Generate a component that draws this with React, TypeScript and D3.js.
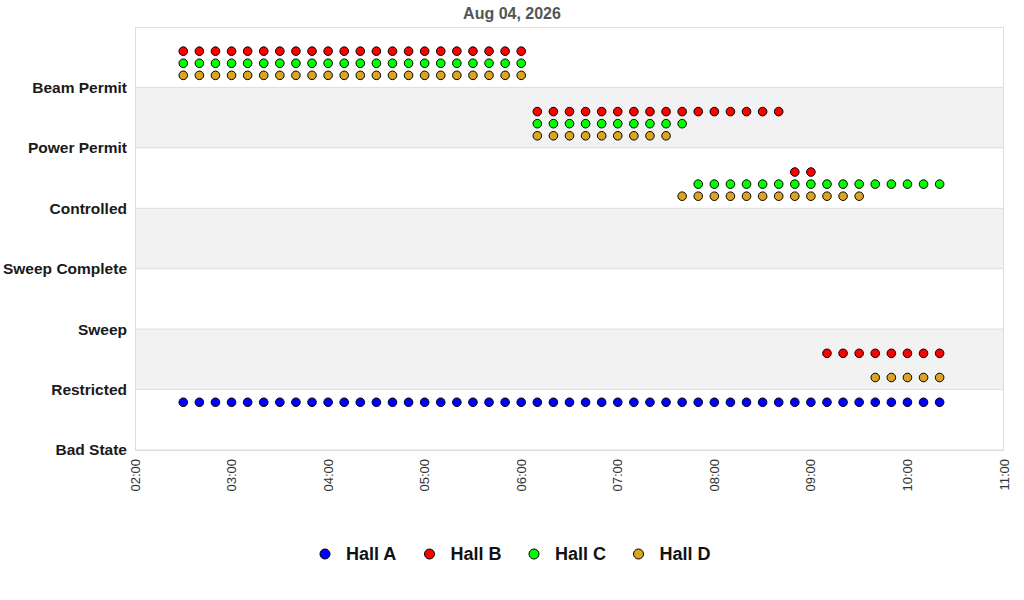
import React, { useMemo } from "react";
import * as d3 from "d3";

const DAY = "2026-08-04";
const TITLE = "Aug 04, 2026";

// states, bottom to top
const STATES = ["Bad State", "Restricted", "Sweep", "Sweep Complete", "Controlled", "Power Permit", "Beam Permit"];

const X_TICKS = ["02:00", "03:00", "04:00", "05:00", "06:00", "07:00", "08:00", "09:00", "10:00", "11:00"];

const TIMES = [
  "02:30", "02:40", "02:50", "03:00", "03:10", "03:20", "03:30", "03:40", "03:50", "04:00",
  "04:10", "04:20", "04:30", "04:40", "04:50", "05:00", "05:10", "05:20", "05:30", "05:40",
  "05:50", "06:00", "06:10", "06:20", "06:30", "06:40", "06:50", "07:00", "07:10", "07:20",
  "07:30", "07:40", "07:50", "08:00", "08:10", "08:20", "08:30", "08:40", "08:50", "09:00",
  "09:10", "09:20", "09:30", "09:40", "09:50", "10:00", "10:10", "10:20",
];

const BP = "Beam Permit";
const PP = "Power Permit";
const CT = "Controlled";
const RS = "Restricted";

const HALL_A = [
  RS, RS, RS, RS, RS, RS, RS, RS, RS, RS,
  RS, RS, RS, RS, RS, RS, RS, RS, RS, RS,
  RS, RS, RS, RS, RS, RS, RS, RS, RS, RS,
  RS, RS, RS, RS, RS, RS, RS, RS, RS, RS,
  RS, RS, RS, RS, RS, RS, RS, RS,
];

const HALL_B = [
  BP, BP, BP, BP, BP, BP, BP, BP, BP, BP,
  BP, BP, BP, BP, BP, BP, BP, BP, BP, BP,
  BP, BP, PP, PP, PP, PP, PP, PP, PP, PP,
  PP, PP, PP, PP, PP, PP, PP, PP, CT, CT,
  RS, RS, RS, RS, RS, RS, RS, RS,
];

const HALL_C = [
  BP, BP, BP, BP, BP, BP, BP, BP, BP, BP,
  BP, BP, BP, BP, BP, BP, BP, BP, BP, BP,
  BP, BP, PP, PP, PP, PP, PP, PP, PP, PP,
  PP, PP, CT, CT, CT, CT, CT, CT, CT, CT,
  CT, CT, CT, CT, CT, CT, CT, CT,
];

const HALL_D = [
  BP, BP, BP, BP, BP, BP, BP, BP, BP, BP,
  BP, BP, BP, BP, BP, BP, BP, BP, BP, BP,
  BP, BP, PP, PP, PP, PP, PP, PP, PP, PP,
  PP, CT, CT, CT, CT, CT, CT, CT, CT, CT,
  CT, CT, CT, RS, RS, RS, RS, RS,
];

const HALLS = [
  { key: "A", label: "Hall A", color: "#0000ff", values: HALL_A, offset: -0.21 },
  { key: "B", label: "Hall B", color: "#ff0000", values: HALL_B, offset: 0.6 },
  { key: "C", label: "Hall C", color: "#00ff00", values: HALL_C, offset: 0.4 },
  { key: "D", label: "Hall D", color: "#daa520", values: HALL_D, offset: 0.2 },
];

const FONT = "'Liberation Sans', Arial, sans-serif";

export default function App() {
  const width = 1024;
  const height = 600;
  const margin = { top: 27, right: 20, bottom: 150, left: 135 };
  const w = width - margin.left - margin.right;
  const h = height - margin.top - margin.bottom;

  const parse = d3.timeParse("%Y-%m-%d %H:%M");

  const chart = useMemo(() => {
    const x = d3
      .scaleTime()
      .domain([parse(`${DAY} 02:00`)!, parse(`${DAY} 11:00`)!])
      .range([0, w]);
    const y = d3.scaleLinear().domain([0, STATES.length]).range([h, 0]);

    const points = HALLS.flatMap((hall) =>
      hall.values.map((s, i) => ({
        key: `${hall.key}-${i}`,
        color: hall.color,
        cx: x(parse(`${DAY} ${TIMES[i]}`)!),
        cy: y(STATES.indexOf(s) + hall.offset),
      }))
    );

    const xTicks = X_TICKS.map((t) => ({ label: t, x: x(parse(`${DAY} ${t}`)!) }));
    const yTicks = STATES.map((s, i) => ({ label: s, y: y(i), i }));
    return { x, y, points, xTicks, yTicks };
  }, [w, h]);

  const { y } = chart;

  return (
    <div style={{ position: "absolute", left: 0, top: 0 }}>
      <svg width={width} height={height} style={{ display: "block", background: "#fff" }}>
        <text x={512} y={19} textAnchor="middle" fontFamily={FONT} fontWeight="bold" fontSize={16} fill="#555">
          {TITLE}
        </text>
        <g transform={`translate(${margin.left},${margin.top})`}>
          {/* alternating bands */}
          {STATES.map((_, i) =>
            i % 2 === 1 ? (
              <rect key={`band-${i}`} x={0} width={w} y={y(i + 1)} height={y(i) - y(i + 1)} fill="#f2f2f2" />
            ) : null
          )}
          {/* grid */}
          {chart.yTicks.map((t) => (
            <g key={t.label}>
              <line x1={0} x2={w} y1={t.y} y2={t.y} stroke="#dddddd" />
              <text
                x={-8}
                y={t.y}
                textAnchor="end"
                dy="0.35em"
                fontFamily={FONT}
                fontWeight="bold"
                fontSize={15.5}
                fill="#1a1a1a"
              >
                {t.label}
              </text>
            </g>
          ))}
          <rect x={0.5} y={0.5} width={w - 1} height={h} fill="none" stroke="#dddddd" />

          {/* x labels */}
          {chart.xTicks.map((t) => (
            <text
              key={t.label}
              transform={`translate(${t.x},${h + 9}) rotate(-90)`}
              textAnchor="end"
              dy="0.35em"
              fontFamily={FONT}
              fontSize={13}
              fill="#333"
            >
              {t.label}
            </text>
          ))}

          {/* points */}
          {chart.points.map((p) => (
            <circle key={p.key} cx={p.cx} cy={p.cy} r={4.3} fill={p.color} stroke="#000" strokeWidth={1} />
          ))}
        </g>

        {/* legend */}
        <g transform="translate(325,554)">
          {HALLS.map((hall, i) => (
            <g key={hall.key} transform={`translate(${i * 104.5},0)`}>
              <circle cx={0} cy={0} r={5} fill={hall.color} stroke="#000" strokeWidth={1} />
              <text x={21} y={0} dy="0.35em" fontFamily={FONT} fontWeight="bold" fontSize={18} fill="#111">
                {hall.label}
              </text>
            </g>
          ))}
        </g>
      </svg>
    </div>
  );
}
